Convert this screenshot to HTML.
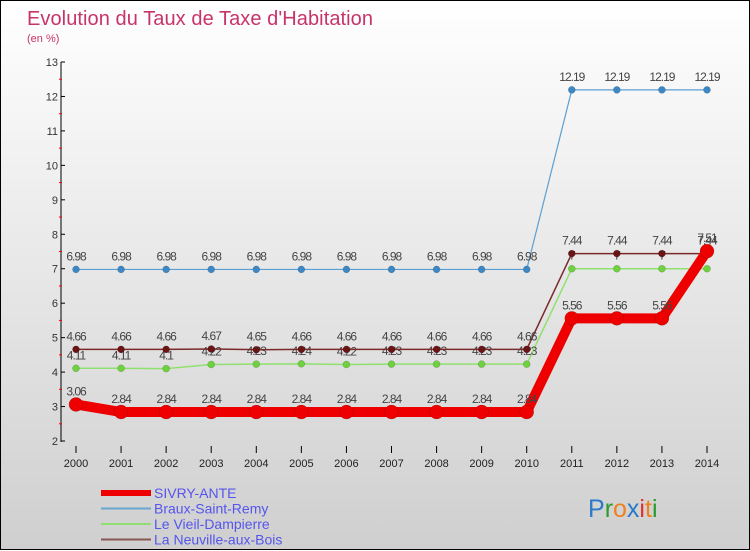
<!DOCTYPE html>
<html><head><meta charset="utf-8"><style>
body{margin:0;width:750px;height:550px;overflow:hidden;font-family:"Liberation Sans",sans-serif}
#wrap{position:relative;width:748px;height:548px;border:1px solid #000;background:linear-gradient(#fff,#cfcfcf)}
svg{position:absolute;left:0;top:0}
</style></head><body>
<div id="wrap">
<svg id="c" width="750" height="550"></svg>
</div>
<script>
const years=[2000,2001,2002,2003,2004,2005,2006,2007,2008,2009,2010,2011,2012,2013,2014];
const sivry=[3.06,2.84,2.84,2.84,2.84,2.84,2.84,2.84,2.84,2.84,2.84,5.56,5.56,5.56,7.51];
const braux=[6.98,6.98,6.98,6.98,6.98,6.98,6.98,6.98,6.98,6.98,6.98,12.19,12.19,12.19,12.19];
const vieil=[4.11,4.11,4.1,4.22,4.23,4.24,4.22,4.23,4.23,4.23,4.23,7,7,7,7];
const neuv=[4.66,4.66,4.66,4.67,4.65,4.66,4.66,4.66,4.66,4.66,4.66,7.44,7.44,7.44,7.44];
const yTicks=[2,3,4,5,6,7,8,9,10,11,12,13];
const seriesNames=["SIVRY-ANTE","Braux-Saint-Remy","Le Vieil-Dampierre","La Neuville-aux-Bois"];
const NS="http://www.w3.org/2000/svg",svg=document.getElementById('c');
const X=i=>75+i*(631/(years.length-1));
const Y=v=>440-(v-2)*(379/11);
function mk(t,a,p){const e=document.createElementNS(NS,t);for(const k in a)e.setAttribute(k,a[k]);(p||svg).appendChild(e);return e;}
function txt(x,y,s,a){const e=mk('text',Object.assign({x:x,y:y},a));e.textContent=s;return e;}
let t=txt(26,24,"Evolution du Taux de Taxe d'Habitation",{fill:'#c8336a','font-size':20,textLength:346});

t=txt(26,41,"(en %)",{fill:'#c8336a','font-size':11});

let ax=mk('line',{x1:60,y1:Y(13),x2:60,y2:Y(2)+1,stroke:'#000','stroke-width':1});

yTicks.forEach(v=>{mk('line',{x1:60,x2:64,y1:Y(v),y2:Y(v),stroke:'#000'});
 if(v<13)mk('line',{x1:58,x2:61,y1:Y(v+0.5),y2:Y(v+0.5),stroke:'#f00'});
 let l=txt(57,Y(v)+4,v,{'text-anchor':'end','font-size':11,fill:'#333'});
 });
years.forEach((y,i)=>{mk('line',{x1:X(i),x2:X(i),y1:445,y2:452,stroke:'#000'});
 let l=txt(X(i),466,y,{'text-anchor':'middle','font-size':11,fill:'#222'});
 });
function series(d,col,w,r,dot,name){
 const g=mk('g',{});
 mk('polyline',{points:d.map((v,i)=>X(i)+','+Y(v)).join(' '),fill:'none',stroke:col,'stroke-width':w},g);
 d.forEach((v,i)=>{const c=mk('circle',{cx:X(i),cy:Y(v),r:r,fill:dot,stroke:'rgba(0,0,0,0.25)','stroke-width':0.5},g);
  
  const l=txt(X(i),Y(v)-9,String(v),{'text-anchor':'middle','font-size':12,fill:'#444','letter-spacing':'-1'},g);
  });
}
series(braux,'#5a9fd4',1.2,3.5,'#3d87c4','series-braux');
series(vieil,'#90e070',1.5,3.5,'#6fd040','series-vieil');
series(neuv,'#7a2a2a',1.5,3.5,'#6a1515','series-neuville');
series(sivry,'#ee0000',10,7,'#ee0000','series-sivry');
const lc=['#ee0000','#6aa6cf','#90e070','#8a5555'],lw=[6,2,2,2];
seriesNames.forEach((n,i)=>{const y=492+i*15.5;
 const g=mk('g',{});
 mk('line',{x1:100,x2:150,y1:y,y2:y,stroke:lc[i],'stroke-width':lw[i]},g);
 txt(153,y+5,n,{'font-size':14,fill:'#5555ee'},g);});
const lg=txt(587,516,'',{'font-size':25,'font-weight':'normal'});
[['P','#2a7ac8'],['r','#2a9a2a'],['o','#f08020'],['x','#2a7ac8'],['i','#e03030'],['t','#f08020'],['i','#2a9a2a']].forEach(([c,f])=>{const s=mk('tspan',{fill:f},lg);s.textContent=c;});
</script>
</body></html>
